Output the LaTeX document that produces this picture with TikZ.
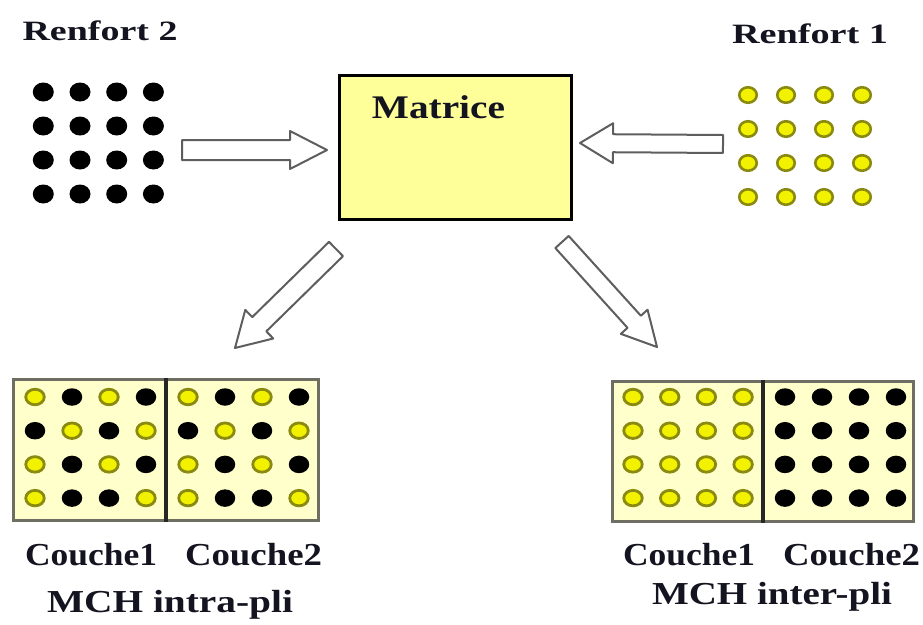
\documentclass[tikz,border=0pt]{standalone}
\usepackage{fontspec}
\setmainfont{Liberation Serif}
\usepackage{graphicx}
\usetikzlibrary{shapes.geometric,calc}
\definecolor{matfill}{HTML}{FFFF99}
\definecolor{plyfill}{HTML}{FFFFCC}
\definecolor{plyedge}{HTML}{6E6E62}
\definecolor{cYel}{HTML}{F2F200}
\definecolor{cOlive}{HTML}{8A8A10}
\definecolor{arrgray}{HTML}{5E5E5E}
\definecolor{txt}{HTML}{141420}
\newcommand\wtext[3]{\resizebox{#2pt}{\height}{\fontsize{#1pt}{#1pt}\selectfont\bfseries #3}}
\newcommand\blockarrow[5]{% tail, tip, shaft half width, head half width, head length
  \path ($(#2)!#5!(#1)$) coordinate (hb-#1);
  \draw[barrow] ($(#1)!#3!90:(#2)$) -- ($(hb-#1)!#3!90:(#2)$) -- ($(hb-#1)!#4!90:(#2)$)
     -- (#2) -- ($(hb-#1)!#4!-90:(#2)$) -- ($(hb-#1)!#3!-90:(#2)$) -- ($(#1)!#3!-90:(#2)$) -- cycle;
}
\tikzset{
  lbl/.style={inner sep=0pt, outer sep=0pt, anchor=base, text=txt},
  doty/.style={ellipse, draw=cOlive, fill=cYel, line width=2.8pt, minimum width=18.5pt, minimum height=15.5pt, inner sep=0pt},
  dotY/.style={ellipse, draw=cOlive, fill=cYel, line width=2.6pt, minimum width=17.5pt, minimum height=15.5pt, inner sep=0pt},
  dotb/.style={ellipse, fill=black, minimum width=20.5pt, minimum height=17.5pt, inner sep=0pt},
  dotB/.style={ellipse, fill=black, minimum width=21pt, minimum height=19pt, inner sep=0pt},
  barrow/.style={draw=arrgray, line width=2pt, fill=white, line join=round},
  matbox/.style={draw=black, line width=3pt, fill=matfill, minimum width=232pt, minimum height=144pt, inner sep=0pt},
  plybox/.style={draw=plyedge, line width=3pt, fill=plyfill, inner sep=0pt},
  divider/.style={draw=black!85, line width=3.5pt}
}
\begin{document}
\begin{tikzpicture}[x=1pt,y=-1pt]
\useasboundingbox (0,0) rectangle (923,624);
% titles
\node[lbl] (r2lbl) at (100,40) {\wtext{28}{155}{Renfort 2}};
\node[lbl] (r1lbl) at (810,43) {\wtext{28}{156}{Renfort 1}};
% matrix box
\node[matbox] (mat) at (455.5,147.5) {};
\node[lbl] (mattxt) at (438.5,118) {\wtext{33}{133}{Matrice}};
% reinforcement 2 (black)
\foreach \c in {1,...,4} \foreach \r in {1,...,4}
  \node[dotB] (r2-\c-\r) at ({43.3+(\c-1)*36.7},{92+(\r-1)*34}) {};
% reinforcement 1 (yellow)
\foreach \c in {1,...,4} \foreach \r in {1,...,4}
  \node[dotY] (r1-\c-\r) at ({748+(\c-1)*38},{95+(\r-1)*34}) {};
% arrows
\coordinate (a1t) at (182,150); \coordinate (a1h) at (327,150);
\coordinate (a2t) at (723,144); \coordinate (a2h) at (580,143);
\coordinate (a3t) at (336,249); \coordinate (a3h) at (235,348);
\coordinate (a4t) at (562,242); \coordinate (a4h) at (657,347);
\blockarrow{a1t}{a1h}{10pt}{19pt}{37pt}
\blockarrow{a2t}{a2h}{9pt}{20pt}{33pt}
\blockarrow{a3t}{a3h}{10pt}{20pt}{34pt}
\blockarrow{a4t}{a4h}{9pt}{18pt}{34pt}
% intra-ply box
\node[plybox, minimum width=305pt, minimum height=141pt] (plyL) at (166,450) {};
\draw[divider] (plyL.north) -- (plyL.south);
\foreach \h/\off in {a/0,b/153} {
  \foreach \c/\r in {1/1,3/1,2/2,4/2,1/3,3/3,1/4,4/4}
    \node[doty] (iL-\h-\c-\r) at ({35+(\c-1)*37+\off},{397+(\r-1)*33.7}) {};
  \foreach \c/\r in {2/1,4/1,1/2,3/2,2/3,4/3,2/4,3/4}
    \node[dotb] (iL-\h-\c-\r) at ({35+(\c-1)*37+\off},{397+(\r-1)*33.7}) {};
}
% inter-ply box
\node[plybox, minimum width=301pt, minimum height=140pt] (plyR) at (763,451.5) {};
\draw[divider] (plyR.north) -- (plyR.south);
\foreach \c in {1,...,4} \foreach \r in {1,...,4} {
  \node[doty] (iR-a-\c-\r) at ({633+(\c-1)*36.7},{397+(\r-1)*33.7}) {};
  \node[dotb] (iR-b-\c-\r) at ({785+(\c-1)*37},{397+(\r-1)*33.7}) {};
}
% labels
\node[lbl] (cL1) at (91,565) {\wtext{32}{132}{Couche1}};
\node[lbl] (cL2) at (253.5,565) {\wtext{32}{137}{Couche2}};
\node[lbl] (mL) at (170,612) {\wtext{32}{246}{MCH intra-pli}};
\node[lbl] (cR1) at (689,565) {\wtext{32}{132}{Couche1}};
\node[lbl] (cR2) at (851.5,565) {\wtext{32}{137}{Couche2}};
\node[lbl] (mR) at (772,604) {\wtext{32}{240}{MCH inter-pli}};
\end{tikzpicture}
\end{document}
